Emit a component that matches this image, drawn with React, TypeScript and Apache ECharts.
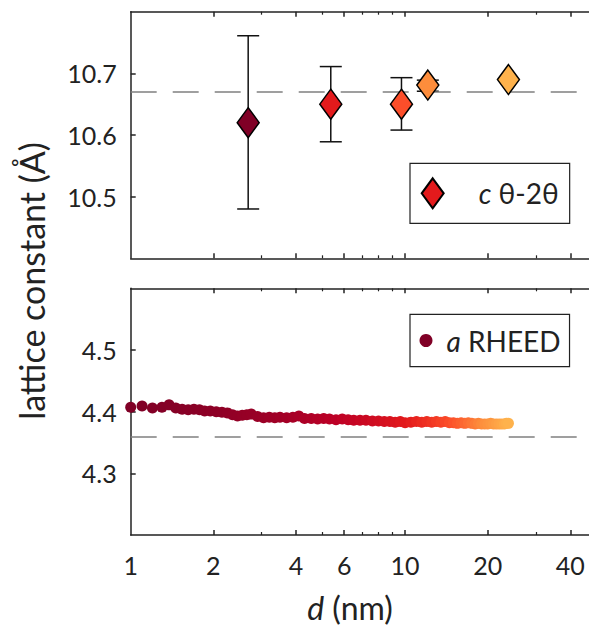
import React, { useEffect, useRef } from 'react';
import * as echarts from 'echarts';

const FONT = 'Lato';
const INK = '#222222';

// axis ticks and labels
const xTickLabels = [1, 2, 4, 6, 10, 20, 40];
const xMajorTicks = [2, 4, 6, 10, 20, 40];
const xMinorTicks = [3, 5, 7, 8, 9, 30];
const cTicks = [10.5, 10.6, 10.7];
const aTicks = [4.3, 4.4, 4.5];

// c lattice constant from theta-2theta (top panel)
const cThickness = [2.68, 5.36, 9.7, 12.1, 23.8];
const cValue = [10.62, 10.65, 10.65, 10.681, 10.69];
const cErrLow = [10.48, 10.589, 10.608, 10.671, null];
const cErrHigh = [10.761, 10.711, 10.693, 10.689, null];
const cPalette = ['#800026', '#e31a1c', '#fc4e2a', '#fd8d3c', '#feb24c'];
const cBulk = 10.666;

// a lattice constant from RHEED (bottom panel)
const aThickness = [
  1.0, 1.1, 1.2, 1.3, 1.38, 1.46, 1.54, 1.62, 1.7, 1.78, 1.86, 1.95, 2.05, 2.15,
  2.25, 2.35, 2.45, 2.55, 2.65, 2.75, 2.9, 3.05, 3.2, 3.35, 3.5, 3.7, 3.9, 4.1,
  4.3, 4.55, 4.8, 5.05, 5.3, 5.6, 5.9, 6.2, 6.5, 6.85, 7.2, 7.6, 8.0, 8.4, 8.8,
  9.2, 9.6, 10.0, 10.5, 11.0, 11.5, 12.0, 12.5, 13.0, 13.5, 14.0, 14.5, 15.0,
  15.5, 16.0, 16.5, 17.0, 17.5, 18.0, 18.5, 19.0, 19.5, 20.0, 20.5, 21.0, 21.5,
  22.0, 22.5, 23.0, 23.4, 23.8,
];
const aValue = [
  4.407, 4.409, 4.406, 4.407, 4.411, 4.406, 4.404, 4.403, 4.404, 4.403, 4.401,
  4.401, 4.4, 4.399, 4.398, 4.395, 4.393, 4.394, 4.395, 4.396, 4.392, 4.39,
  4.391, 4.39, 4.391, 4.39, 4.391, 4.393, 4.389, 4.389, 4.388, 4.389, 4.388,
  4.387, 4.388, 4.387, 4.386, 4.386, 4.386, 4.385, 4.385, 4.384, 4.384, 4.383,
  4.384, 4.382, 4.383, 4.384, 4.383, 4.384, 4.383, 4.384, 4.383, 4.384, 4.382,
  4.382, 4.381, 4.382, 4.381, 4.382, 4.381, 4.38, 4.381, 4.38, 4.38, 4.38,
  4.381, 4.38, 4.38, 4.38, 4.38, 4.38, 4.381, 4.381,
];
const aPalette = ['#800026', '#bd0026', '#e31a1c', '#fc4e2a', '#fd8d3c', '#feb24c'];
const aBulk = 4.363;

const GRID_LEFT = 130.7;
const GRID_WIDTH = 466.2;

function xAxes(gridIndex: number, showLabels: boolean) {
  const base = {
    type: 'log',
    logBase: 10,
    gridIndex,
    min: 1,
    max: 50,
    splitLine: { show: false },
  };
  const line = { show: true, onZero: false, lineStyle: { color: INK, width: 1.5 } };
  const noLine = { show: false, onZero: false };
  return [
    {
      ...base,
      position: 'bottom',
      axisLine: line,
      axisTick: { show: true, inside: true, length: 5, customValues: xMajorTicks, lineStyle: { color: INK, width: 1.5 } },
      axisLabel: {
        show: showLabels,
        customValues: xTickLabels,
        margin: 17,
        fontFamily: FONT,
        fontSize: 25,
        color: INK,
        formatter: (v: number) => String(Math.round(v)),
      },
    },
    {
      ...base,
      position: 'bottom',
      axisLine: noLine,
      axisTick: { show: true, inside: true, length: 3, customValues: xMinorTicks, lineStyle: { color: INK, width: 1.2 } },
      axisLabel: { show: false },
    },
    {
      ...base,
      position: 'top',
      axisLine: line,
      axisTick: { show: true, inside: true, length: 5, customValues: xMajorTicks, lineStyle: { color: INK, width: 1.5 } },
      axisLabel: { show: false },
    },
    {
      ...base,
      position: 'top',
      axisLine: noLine,
      axisTick: { show: true, inside: true, length: 3, customValues: xMinorTicks, lineStyle: { color: INK, width: 1.2 } },
      axisLabel: { show: false },
    },
  ];
}

function yAxis(gridIndex: number, min: number, max: number, ticks: number[]) {
  return {
    type: 'value',
    gridIndex,
    min,
    max,
    position: 'left',
    splitLine: { show: false },
    axisLine: { show: true, onZero: false, lineStyle: { color: INK, width: 1.5 } },
    axisTick: { show: true, inside: true, length: 5, customValues: ticks, lineStyle: { color: INK, width: 1.5 } },
    axisLabel: {
      customValues: ticks,
      margin: 14,
      fontFamily: FONT,
      fontSize: 25,
      color: INK,
      formatter: (v: number) => v.toFixed(1),
    },
  };
}

const dashed = { type: [26, 16], color: '#808080', width: 1.5 };

export default function App() {
  const ref = useRef<HTMLDivElement>(null);
  useEffect(() => {
    if (!ref.current) return;
    const chart = echarts.init(ref.current, null, { renderer: 'svg' });

    const errData = cThickness
      .map((d, i) => [d, cErrLow[i], cErrHigh[i]])
      .filter((r) => r[1] != null && r[2] != null);
    const diamondData = cThickness.map((d, i) => ({
      value: [d, cValue[i]],
      itemStyle: { color: cPalette[i] },
    }));
    const rheedData = aThickness.map((d, i) => [d, aValue[i]]);

    const option: any = {
      animation: false,
      grid: [
        { left: GRID_LEFT, top: 11.7, width: GRID_WIDTH, height: 246.6, outerBoundsMode: 'none', containLabel: false },
        { left: GRID_LEFT, top: 288.3, width: GRID_WIDTH, height: 246.7, outerBoundsMode: 'none', containLabel: false },
      ],
      xAxis: [...xAxes(0, false), ...xAxes(1, true)],
      yAxis: [yAxis(0, 10.4, 10.8, cTicks), yAxis(1, 4.2, 4.6, aTicks)],
      visualMap: {
        type: 'continuous',
        show: false,
        seriesIndex: 2,
        dimension: 0,
        min: 1,
        max: 23.8,
        inRange: { color: aPalette },
      },
      legend: [
        {
          data: [{ name: 'c θ-2θ', icon: 'diamond' }],
          left: 410,
          top: 163.3,
          orient: 'vertical',
          itemWidth: 22,
          itemHeight: 30,
          symbolKeepAspect: false,
          padding: [14, 11, 14, 10.7],
          borderColor: INK,
          borderWidth: 1.2,
          borderRadius: 0,
          backgroundColor: '#ffffff',
          selectedMode: false,
          formatter: () => '{g| }{i|c} θ-2θ',
          textStyle: {
            fontFamily: FONT,
            fontSize: 28,
            color: INK,
            rich: {
              g: { width: 30, fontSize: 28, fontFamily: FONT },
              i: { fontStyle: 'italic', fontFamily: FONT, fontSize: 28, color: INK },
            },
          },
        },
        {
          data: [{ name: 'a RHEED', icon: 'circle' }],
          left: 410,
          top: 314.3,
          orient: 'vertical',
          itemWidth: 13,
          itemHeight: 13,
          padding: [12.2, 9, 12.2, 9.5],
          borderColor: INK,
          borderWidth: 1.2,
          borderRadius: 0,
          backgroundColor: '#ffffff',
          selectedMode: false,
          formatter: () => '{g| }{i|a} RHEED',
          textStyle: {
            fontFamily: FONT,
            fontSize: 28,
            color: INK,
            rich: {
              g: { width: 9, fontSize: 28, fontFamily: FONT },
              i: { fontStyle: 'italic', fontFamily: FONT, fontSize: 28, color: INK },
            },
          },
        },
      ],
      series: [
        {
          type: 'custom',
          name: 'errors',
          xAxisIndex: 0,
          yAxisIndex: 0,
          z: 2,
          encode: { x: 0, y: [1, 2] },
          data: errData,
          renderItem: (params: any, api: any) => {
            const x = api.value(0);
            const lo = api.coord([x, api.value(1)]);
            const hi = api.coord([x, api.value(2)]);
            const hw = 11;
            const st = { stroke: '#111111', lineWidth: 1.5 };
            return {
              type: 'group',
              children: [
                { type: 'line', shape: { x1: lo[0], y1: lo[1], x2: hi[0], y2: hi[1] }, style: st },
                { type: 'line', shape: { x1: lo[0] - hw, y1: lo[1], x2: lo[0] + hw, y2: lo[1] }, style: st },
                { type: 'line', shape: { x1: hi[0] - hw, y1: hi[1], x2: hi[0] + hw, y2: hi[1] }, style: st },
              ],
            };
          },
          markLine: {
            silent: true,
            symbol: ['none', 'none'],
            label: { show: false },
            lineStyle: dashed,
            data: [{ yAxis: cBulk }],
          },
        },
        {
          type: 'scatter',
          name: 'c θ-2θ',
          xAxisIndex: 0,
          yAxisIndex: 0,
          z: 5,
          symbol: 'diamond',
          symbolSize: [22, 30],
          itemStyle: { color: '#e31a1c', borderColor: '#000000', borderWidth: 1.5, opacity: 1 },
          data: diamondData,
        },
        {
          type: 'scatter',
          name: 'a RHEED',
          xAxisIndex: 4,
          yAxisIndex: 1,
          z: 3,
          symbol: 'circle',
          symbolSize: 11,
          itemStyle: { color: '#800026', opacity: 1 },
          data: rheedData,
          markLine: {
            silent: true,
            symbol: ['none', 'none'],
            label: { show: false },
            lineStyle: dashed,
            data: [{ yAxis: aBulk }],
          },
        },
      ],
      graphic: [
        {
          type: 'text',
          x: 31,
          y: 281,
          rotation: Math.PI / 2,
          style: {
            text: 'lattice constant (Å)',
            fontFamily: FONT,
            fontSize: 34,
            fill: INK,
            align: 'center',
            verticalAlign: 'middle',
          },
        },
        {
          type: 'text',
          x: 350,
          y: 607,
          style: {
            text: '{i|d} (nm)',
            fontFamily: FONT,
            fontSize: 32,
            fill: INK,
            align: 'center',
            verticalAlign: 'middle',
            rich: {
              i: { fontStyle: 'italic', fontFamily: FONT, fontSize: 32, fill: INK },
            },
          },
        },
      ],
    };

    chart.setOption(option);
    return () => chart.dispose();
  }, []);

  return (
    <div
      ref={ref}
      style={{ position: 'absolute', left: 0, top: 0, width: 589, height: 627, background: '#ffffff' }}
    />
  );
}
